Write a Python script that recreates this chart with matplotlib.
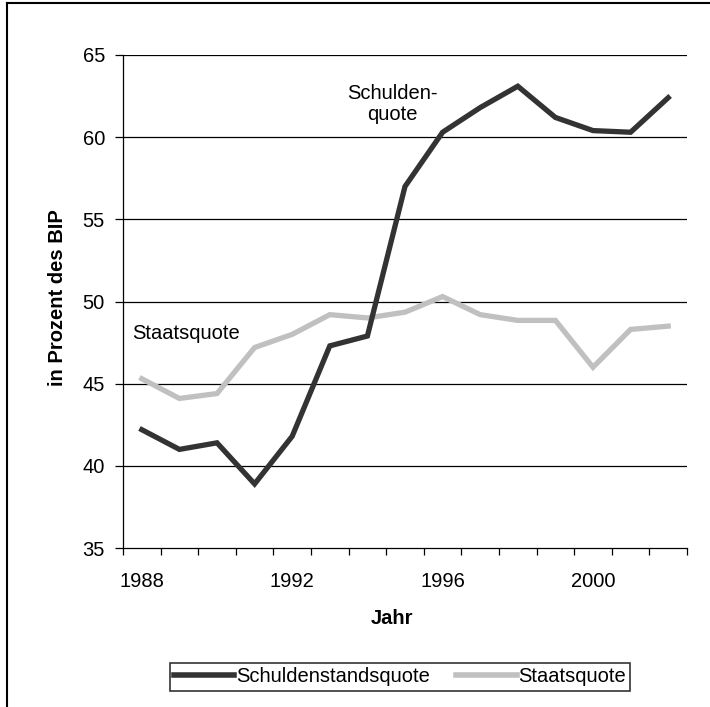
import numpy as np
import matplotlib
matplotlib.use("Agg")
import matplotlib.pyplot as plt
from matplotlib.lines import Line2D

plt.rcParams["font.family"] = ["Liberation Sans", "DejaVu Sans"]

years = list(range(1988, 2003))
schuldenquote = [42.2, 41.0, 41.4, 38.9, 41.8, 47.3, 47.9, 57.0, 60.3, 61.8, 63.1, 61.2, 60.4, 60.3, 62.4]
staatsquote = [45.3, 44.1, 44.4, 47.2, 48.0, 49.2, 49.0, 49.35, 50.3, 49.2, 48.85, 48.85, 46.0, 48.3, 48.5]
labelled_years = [1988, 1992, 1996, 2000]
y_ticks = [35, 40, 45, 50, 55, 60, 65]

dark = "#333333"
light = "#c0c0c0"
fs = 14.5

fig = plt.figure(figsize=(7.1, 7.07), dpi=100)
ax = fig.add_axes([123 / 710, 1 - 548 / 707, (687 - 123) / 710, (548 - 55) / 707])

# horizontal gridlines incl. top
for v in y_ticks[1:]:
    ax.axhline(v, color="black", linewidth=0.9, zorder=1)

ax.plot(years, schuldenquote, color=dark, linewidth=3.8, solid_joinstyle="miter",
        label="Schuldenstandsquote", zorder=3)
ax.plot(years, staatsquote, color=light, linewidth=3.8, solid_joinstyle="miter",
        label="Staatsquote", zorder=2)

ax.set_xlim(years[0] - 0.5, years[-1] + 0.5)
ax.set_ylim(35, 65)

# category axis: tick marks between years, labels on every fourth year
ax.set_xticks(np.arange(years[0] - 0.5, years[-1] + 1.0, 1.0))
ax.set_xticklabels([])
ax.set_xticks(labelled_years, minor=True)
ax.set_xticklabels([str(y) for y in labelled_years], minor=True)
ax.tick_params(axis="x", which="major", direction="out", length=5, width=0.9)
ax.tick_params(axis="x", which="minor", length=0, pad=17, labelsize=fs)
ax.set_yticks(y_ticks)
ax.tick_params(axis="y", direction="out", length=6, width=0.9, pad=7, labelsize=fs)

for side in ("top", "right"):
    ax.spines[side].set_visible(False)
for side in ("left", "bottom"):
    ax.spines[side].set_linewidth(0.9)

fig.text(392 / 710, 1 - 618 / 707, "Jahr", ha="center", va="center", fontsize=fs, fontweight="bold")
fig.text(58 / 710, 1 - 298 / 707, "in Prozent des BIP", rotation=90, ha="center", va="center",
         fontsize=fs, fontweight="bold")

ax.text(1994.66, 62.0, "Schulden-\nquote", ha="center", va="center", fontsize=fs, linespacing=1.15)
ax.text(1989.17, 48.05, "Staatsquote", ha="center", va="center", fontsize=fs)

leg = fig.legend(loc="center", bbox_to_anchor=(400 / 710, 1 - 677 / 707), ncol=2, fontsize=fs,
                 frameon=True, fancybox=False, edgecolor="black", handlelength=3.0,
                 handletextpad=0.1, columnspacing=1.3, borderpad=0.2, borderaxespad=0)
leg.get_frame().set_linewidth(1.2)
for h in leg.get_lines():
    h.set_linewidth(4)

# figure border (left and top visible)
fig.add_artist(Line2D([7 / 710, 7 / 710], [0, 1 - 3 / 707], color="black", linewidth=1.5))
fig.add_artist(Line2D([7 / 710, 1], [1 - 3 / 707, 1 - 3 / 707], color="black", linewidth=1.5))

fig.savefig("out.png", dpi=100)
